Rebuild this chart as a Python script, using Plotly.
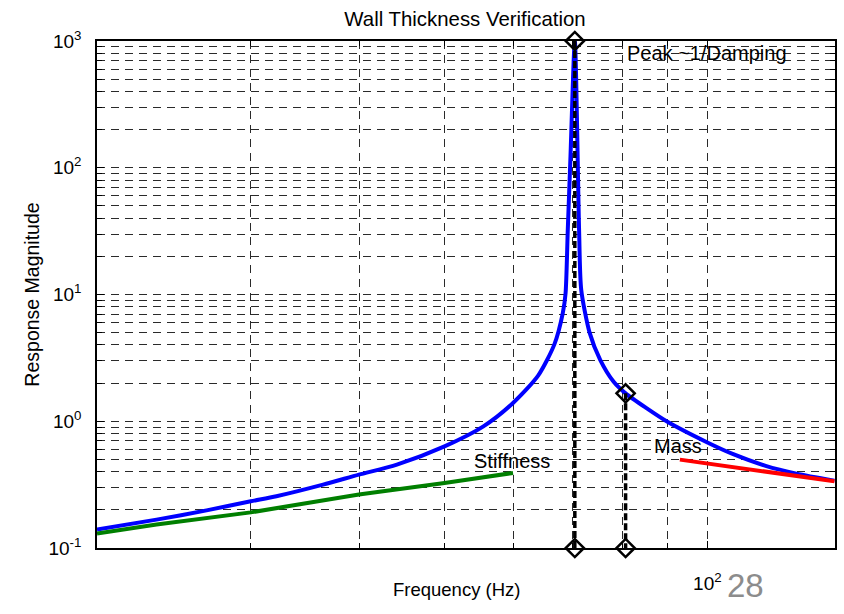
import plotly.graph_objects as go
import numpy as np

# ---- data ----
freq_resp = [20.0, 23.4, 26.7, 30.0, 32.1, 36.3, 39.9, 44.1, 50.0, 55.4, 59.9, 64.0,
             66.8, 68.3, 68.8, 69.2, 69.7, 70.5, 71.3, 71.7, 73.3, 75.4, 78.1, 80.6,
             85.0, 90.0, 100.0, 106.7, 116.6, 126.5, 139.8]
mag_resp = [0.140, 0.1675, 0.198, 0.2335, 0.256, 0.316, 0.379, 0.455, 0.634, 0.912, 1.394, 2.29,
            4.04, 7.13, 10.2, 32.0, 122.8, 1000.0, 32.0, 10.9, 5.0, 3.04, 2.05, 1.66,
            1.28, 0.99, 0.680, 0.555, 0.445, 0.386, 0.340]

freq_stiff = [20.0, 23.4, 30.0, 39.9, 50.0, 59.9]
mag_stiff = [0.130, 0.153, 0.191, 0.264, 0.326, 0.391]

freq_mass = [93.0, 107.0, 122.0, 139.8]
mag_mass = [0.498, 0.436, 0.379, 0.336]

peak_freq = 70.5
peak_mag = 1000.0
half_freq = 80.6
half_mag = 1.66
floor_mag = 0.1

y_major_vals = [0.1, 1, 10, 100, 1000]
y_major_text = ["10<sup>-1</sup>", "10<sup>0</sup>", "10<sup>1</sup>", "10<sup>2</sup>", "10<sup>3</sup>"]
y_minor_vals = [m * 10.0 ** e for e in range(-1, 3) for m in range(2, 10)]
x_major_vals = [100]
x_major_text = ["10<sup>2</sup>"]
x_minor_vals = [20, 30, 40, 50, 60, 70, 80, 90]

FONT = "Liberation Sans, Arial, sans-serif"

fig = go.Figure()

fig.add_trace(go.Scatter(x=freq_resp, y=mag_resp, mode="lines",
                         line=dict(color="#0000ff", width=4, shape="spline", smoothing=0.7),
                         hoverinfo="skip"))
fig.add_trace(go.Scatter(x=freq_stiff, y=mag_stiff, mode="lines",
                         line=dict(color="#007f00", width=4), hoverinfo="skip"))
fig.add_trace(go.Scatter(x=freq_mass, y=mag_mass, mode="lines",
                         line=dict(color="#ff0000", width=4), hoverinfo="skip"))

# dashed verticals with diamond markers
for fx, fy in [(peak_freq, peak_mag), (half_freq, half_mag)]:
    fig.add_trace(go.Scatter(x=[fx, fx], y=[fy, floor_mag], mode="lines+markers",
                             line=dict(color="black", width=3.5, dash="7px,3px"),
                             marker=dict(symbol="diamond-open", size=14, color="black",
                                         line=dict(width=2.5)),
                             hoverinfo="skip", cliponaxis=False))

annos = [
    dict(text="Peak ~1/Damping", x=np.log10(99.8), y=2.907, size=20),
    dict(text="Stiffness", x=1.7767, y=-0.316, size=20),
    dict(text="Mass", x=1.9664, y=-0.198, size=20),
]
for a in annos:
    fig.add_annotation(x=a["x"], y=a["y"], xref="x", yref="y", text=a["text"], showarrow=False,
                       font=dict(family=FONT, size=a["size"], color="black"),
                       xanchor="center", yanchor="middle")

# x-axis label and slide page number
fig.add_annotation(x=(456.5 - 97) / 738, y=(548 - 589) / 507, xref="paper", yref="paper",
                   text="Frequency (Hz)", showarrow=False, xanchor="center", yanchor="middle",
                   font=dict(family=FONT, size=18.5, color="black"))
fig.add_annotation(x=(745 - 97) / 738, y=(548 - 585) / 507, xref="paper", yref="paper",
                   text="28", showarrow=False, xanchor="center", yanchor="middle",
                   font=dict(family=FONT, size=33, color="#8c8c8c"))

grid_common = dict(showgrid=True, gridcolor="#2a2a2a", gridwidth=1, griddash="8px,6px")
axis_common = dict(
    type="log", showline=True, linecolor="black", linewidth=1.5, mirror="allticks",
    ticks="inside", ticklen=7, tickcolor="black", tickwidth=1,
    zeroline=False, automargin=False,
    tickfont=dict(family=FONT, size=19, color="black"),
    **grid_common,
)

fig.update_xaxes(**axis_common, range=[np.log10(20), np.log10(140)],
                 tickmode="array", tickvals=x_major_vals, ticktext=x_major_text,
                 ticklabelstandoff=17,
                 minor=dict(tickmode="array", tickvals=x_minor_vals, ticks="inside", ticklen=5,
                            tickcolor="black", **grid_common))
fig.update_yaxes(**axis_common, range=[-1, 3],
                 tickmode="array", tickvals=y_major_vals, ticktext=y_major_text,
                 ticklabelstandoff=10,
                 minor=dict(tickmode="array", tickvals=y_minor_vals, ticks="inside", ticklen=5,
                            tickcolor="black", **grid_common),
                 title=dict(text="Response Magnitude", font=dict(family=FONT, size=19.5, color="black"),
                            standoff=4))

fig.update_layout(
    width=844, height=614,
    margin=dict(l=97, r=9, t=41, b=66, autoexpand=False),
    paper_bgcolor="white", plot_bgcolor="white",
    showlegend=False,
    title=dict(text="Wall Thickness Verification", x=465 / 844, xanchor="center",
               y=1 - 19 / 614, yanchor="middle", automargin=False,
               font=dict(family=FONT, size=20.4, color="black")),
)

fig.write_html("out.html", config={"displayModeBar": False},
               post_script="document.body.style.margin='0px';")
